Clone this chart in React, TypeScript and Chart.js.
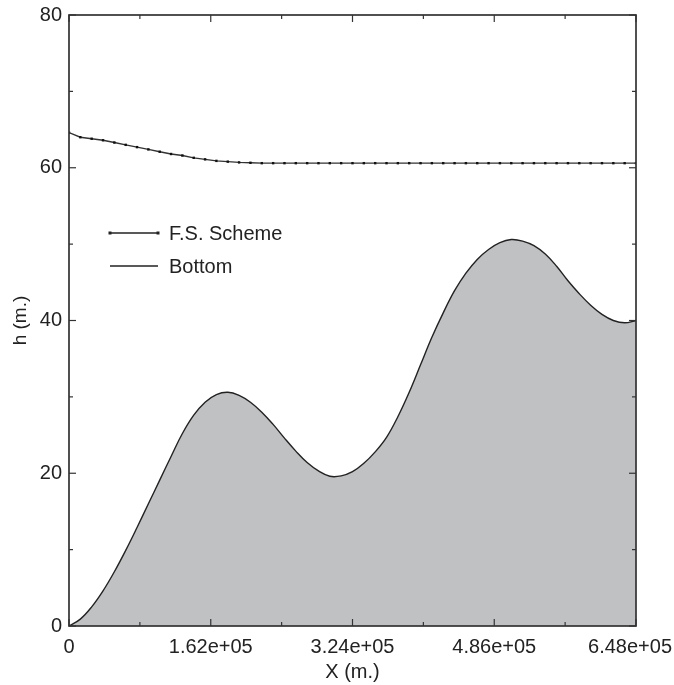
import React, { useEffect, useRef } from "react";
import { Chart, registerables } from "chart.js";

Chart.register(...registerables);

// Grid spacing of the model (m)
const X_STEP = 12960;

// Free-surface (F.S. Scheme) elevation, m
const fsValues = [
  64.6, 64.0, 63.8, 63.6, 63.3, 63.0, 62.7, 62.4, 62.1, 61.8,
  61.6, 61.3, 61.1, 60.9, 60.8, 60.7, 60.65, 60.6, 60.6, 60.6,
  60.6, 60.6, 60.6, 60.6, 60.6, 60.6, 60.6, 60.6, 60.6, 60.6,
  60.6, 60.6, 60.6, 60.6, 60.6, 60.6, 60.6, 60.6, 60.6, 60.6,
  60.6, 60.6, 60.6, 60.6, 60.6, 60.6, 60.6, 60.6, 60.6, 60.6,
  60.6,
];

// Bottom elevation, m
const bottomValues = [
  0.0, 0.9, 2.5, 4.6, 7.1, 9.9, 12.9, 16.0, 19.1, 22.2,
  25.2, 27.6, 29.3, 30.3, 30.6, 30.2, 29.3, 28.0, 26.4, 24.6,
  22.9, 21.4, 20.3, 19.6, 19.65, 20.2, 21.3, 22.8, 24.7, 27.4,
  30.6, 34.2, 37.8, 41.0, 43.9, 46.2, 48.0, 49.3, 50.2, 50.6,
  50.4, 49.8, 48.7, 47.1, 45.2, 43.5, 42.0, 40.8, 40.0, 39.7,
  40.0,
];

const xTickValues = [0, 162000, 324000, 486000, 648000];
const xTickLabels = ["0", "1.62e+05", "3.24e+05", "4.86e+05", "6.48e+05"];
const xMinorTicks = [81000, 243000, 405000, 567000];
const yMajorTicks = [0, 20, 40, 60, 80];
const yMinorTicks = [10, 30, 50, 70];

const legendLabels = ["F.S. Scheme", "Bottom"];

const FONT = "'Liberation Sans', Arial, Helvetica, sans-serif";
const INK = "#333333";
const TEXT = "#222222";

const framePlugin = {
  id: "framePlugin",
  afterDatasetsDraw(chart: any) {
    const { ctx, chartArea: a, scales } = chart;
    const xs = scales.x;
    const ys = scales.y;
    ctx.save();
    ctx.strokeStyle = INK;
    ctx.lineWidth = 1.7;
    ctx.strokeRect(a.left, a.top, a.right - a.left, a.bottom - a.top);

    ctx.lineWidth = 1.2;
    const seg = (x1: number, y1: number, x2: number, y2: number) => {
      ctx.beginPath();
      ctx.moveTo(x1, y1);
      ctx.lineTo(x2, y2);
      ctx.stroke();
    };
    xTickValues.forEach((v) => {
      const px = xs.getPixelForValue(v);
      seg(px, a.bottom, px, a.bottom - 7);
      seg(px, a.top, px, a.top + 7);
    });
    xMinorTicks.forEach((v) => {
      const px = xs.getPixelForValue(v);
      seg(px, a.bottom, px, a.bottom - 4);
      seg(px, a.top, px, a.top + 4);
    });
    yMajorTicks.forEach((v) => {
      const py = ys.getPixelForValue(v);
      seg(a.left, py, a.left + 7, py);
      seg(a.right, py, a.right - 7, py);
    });
    yMinorTicks.forEach((v) => {
      const py = ys.getPixelForValue(v);
      seg(a.left, py, a.left + 4, py);
      seg(a.right, py, a.right - 4, py);
    });

    // x tick labels
    ctx.fillStyle = TEXT;
    ctx.font = `20px ${FONT}`;
    ctx.textAlign = "center";
    ctx.textBaseline = "middle";
    const W = chart.width;
    xTickValues.forEach((v, i) => {
      const label = xTickLabels[i];
      const w = ctx.measureText(label).width;
      let px = xs.getPixelForValue(v);
      px = Math.min(px, W - w / 2 - 2);
      ctx.fillText(label, px, a.bottom + 21);
    });

    // legend
    const lx0 = a.left + 41;
    const lx1 = a.left + 89;
    const rows = [a.top + 218, a.top + 251];
    ctx.strokeStyle = TEXT;
    ctx.lineWidth = 1.4;
    ctx.font = `20px ${FONT}`;
    rows.forEach((ry, i) => {
      seg(lx0, ry, lx1, ry);
      if (i === 0) {
        ctx.fillStyle = TEXT;
        ctx.fillRect(lx0 - 1.5, ry - 1.5, 3, 3);
        ctx.fillRect(lx1 - 1.5, ry - 1.5, 3, 3);
      }
      ctx.fillStyle = TEXT;
      ctx.textAlign = "left";
      ctx.textBaseline = "middle";
      ctx.fillText(legendLabels[i], lx1 + 11, ry + 1);
    });
    ctx.restore();
  },
};

export default function App() {
  const canvasRef = useRef<HTMLCanvasElement | null>(null);

  useEffect(() => {
    if (!canvasRef.current) return;
    const fsData = fsValues.map((y, i) => ({ x: i * X_STEP, y }));
    const bottomData = bottomValues.map((y, i) => ({ x: i * X_STEP, y }));
    const chart = new Chart(canvasRef.current, {
      type: "line",
      data: {
        datasets: [
          {
            label: "F.S. Scheme",
            data: fsData,
            borderColor: "#333333",
            borderWidth: 1.4,
            pointStyle: "rect",
            pointRadius: 1.7,
            pointBackgroundColor: "#111111",
            pointBorderColor: "#111111",
            pointBorderWidth: 0,
            fill: false,
            tension: 0,
          },
          {
            label: "Bottom",
            data: bottomData,
            borderColor: "#222222",
            borderWidth: 1.4,
            backgroundColor: "#c0c1c3",
            pointRadius: 0,
            fill: "origin",
            tension: 0.4,
          },
        ],
      },
      options: {
        animation: false,
        responsive: true,
        maintainAspectRatio: false,
        layout: { padding: { top: 15, right: 38, left: 0, bottom: 0 } },
        plugins: {
          legend: { display: false },
          tooltip: { enabled: false },
        },
        scales: {
          x: {
            type: "linear",
            min: 0,
            max: 648000,
            grid: { display: false, drawTicks: false },
            border: { display: false },
            ticks: { display: false },
            title: {
              display: true,
              text: "X (m.)",
              color: TEXT,
              font: { family: FONT, size: 20 },
              padding: { top: 0, bottom: 1 },
            },
            afterFit: (s: any) => {
              s.height = 59;
              s.paddingLeft = 0;
              s.paddingRight = 0;
            },
          },
          y: {
            type: "linear",
            min: 0,
            max: 80,
            grid: { display: false, drawTicks: false },
            border: { display: false },
            ticks: {
              stepSize: 10,
              color: TEXT,
              font: { family: FONT, size: 20 },
              padding: 7,
              callback: (v: any) => (Number(v) % 20 === 0 ? String(v) : ""),
            },
            title: {
              display: true,
              text: "h (m.)",
              color: TEXT,
              font: { family: FONT, size: 19 },
              padding: { top: 9, bottom: 0 },
            },
            afterFit: (s: any) => {
              s.width = 69;
              s.paddingTop = 0;
              s.paddingBottom = 0;
            },
          },
        },
      },
      plugins: [framePlugin],
    });
    return () => chart.destroy();
  }, []);

  return (
    <div
      style={{
        position: "fixed",
        left: 0,
        top: 0,
        width: 674,
        height: 685,
        background: "#ffffff",
      }}
    >
      <canvas ref={canvasRef} />
    </div>
  );
}
